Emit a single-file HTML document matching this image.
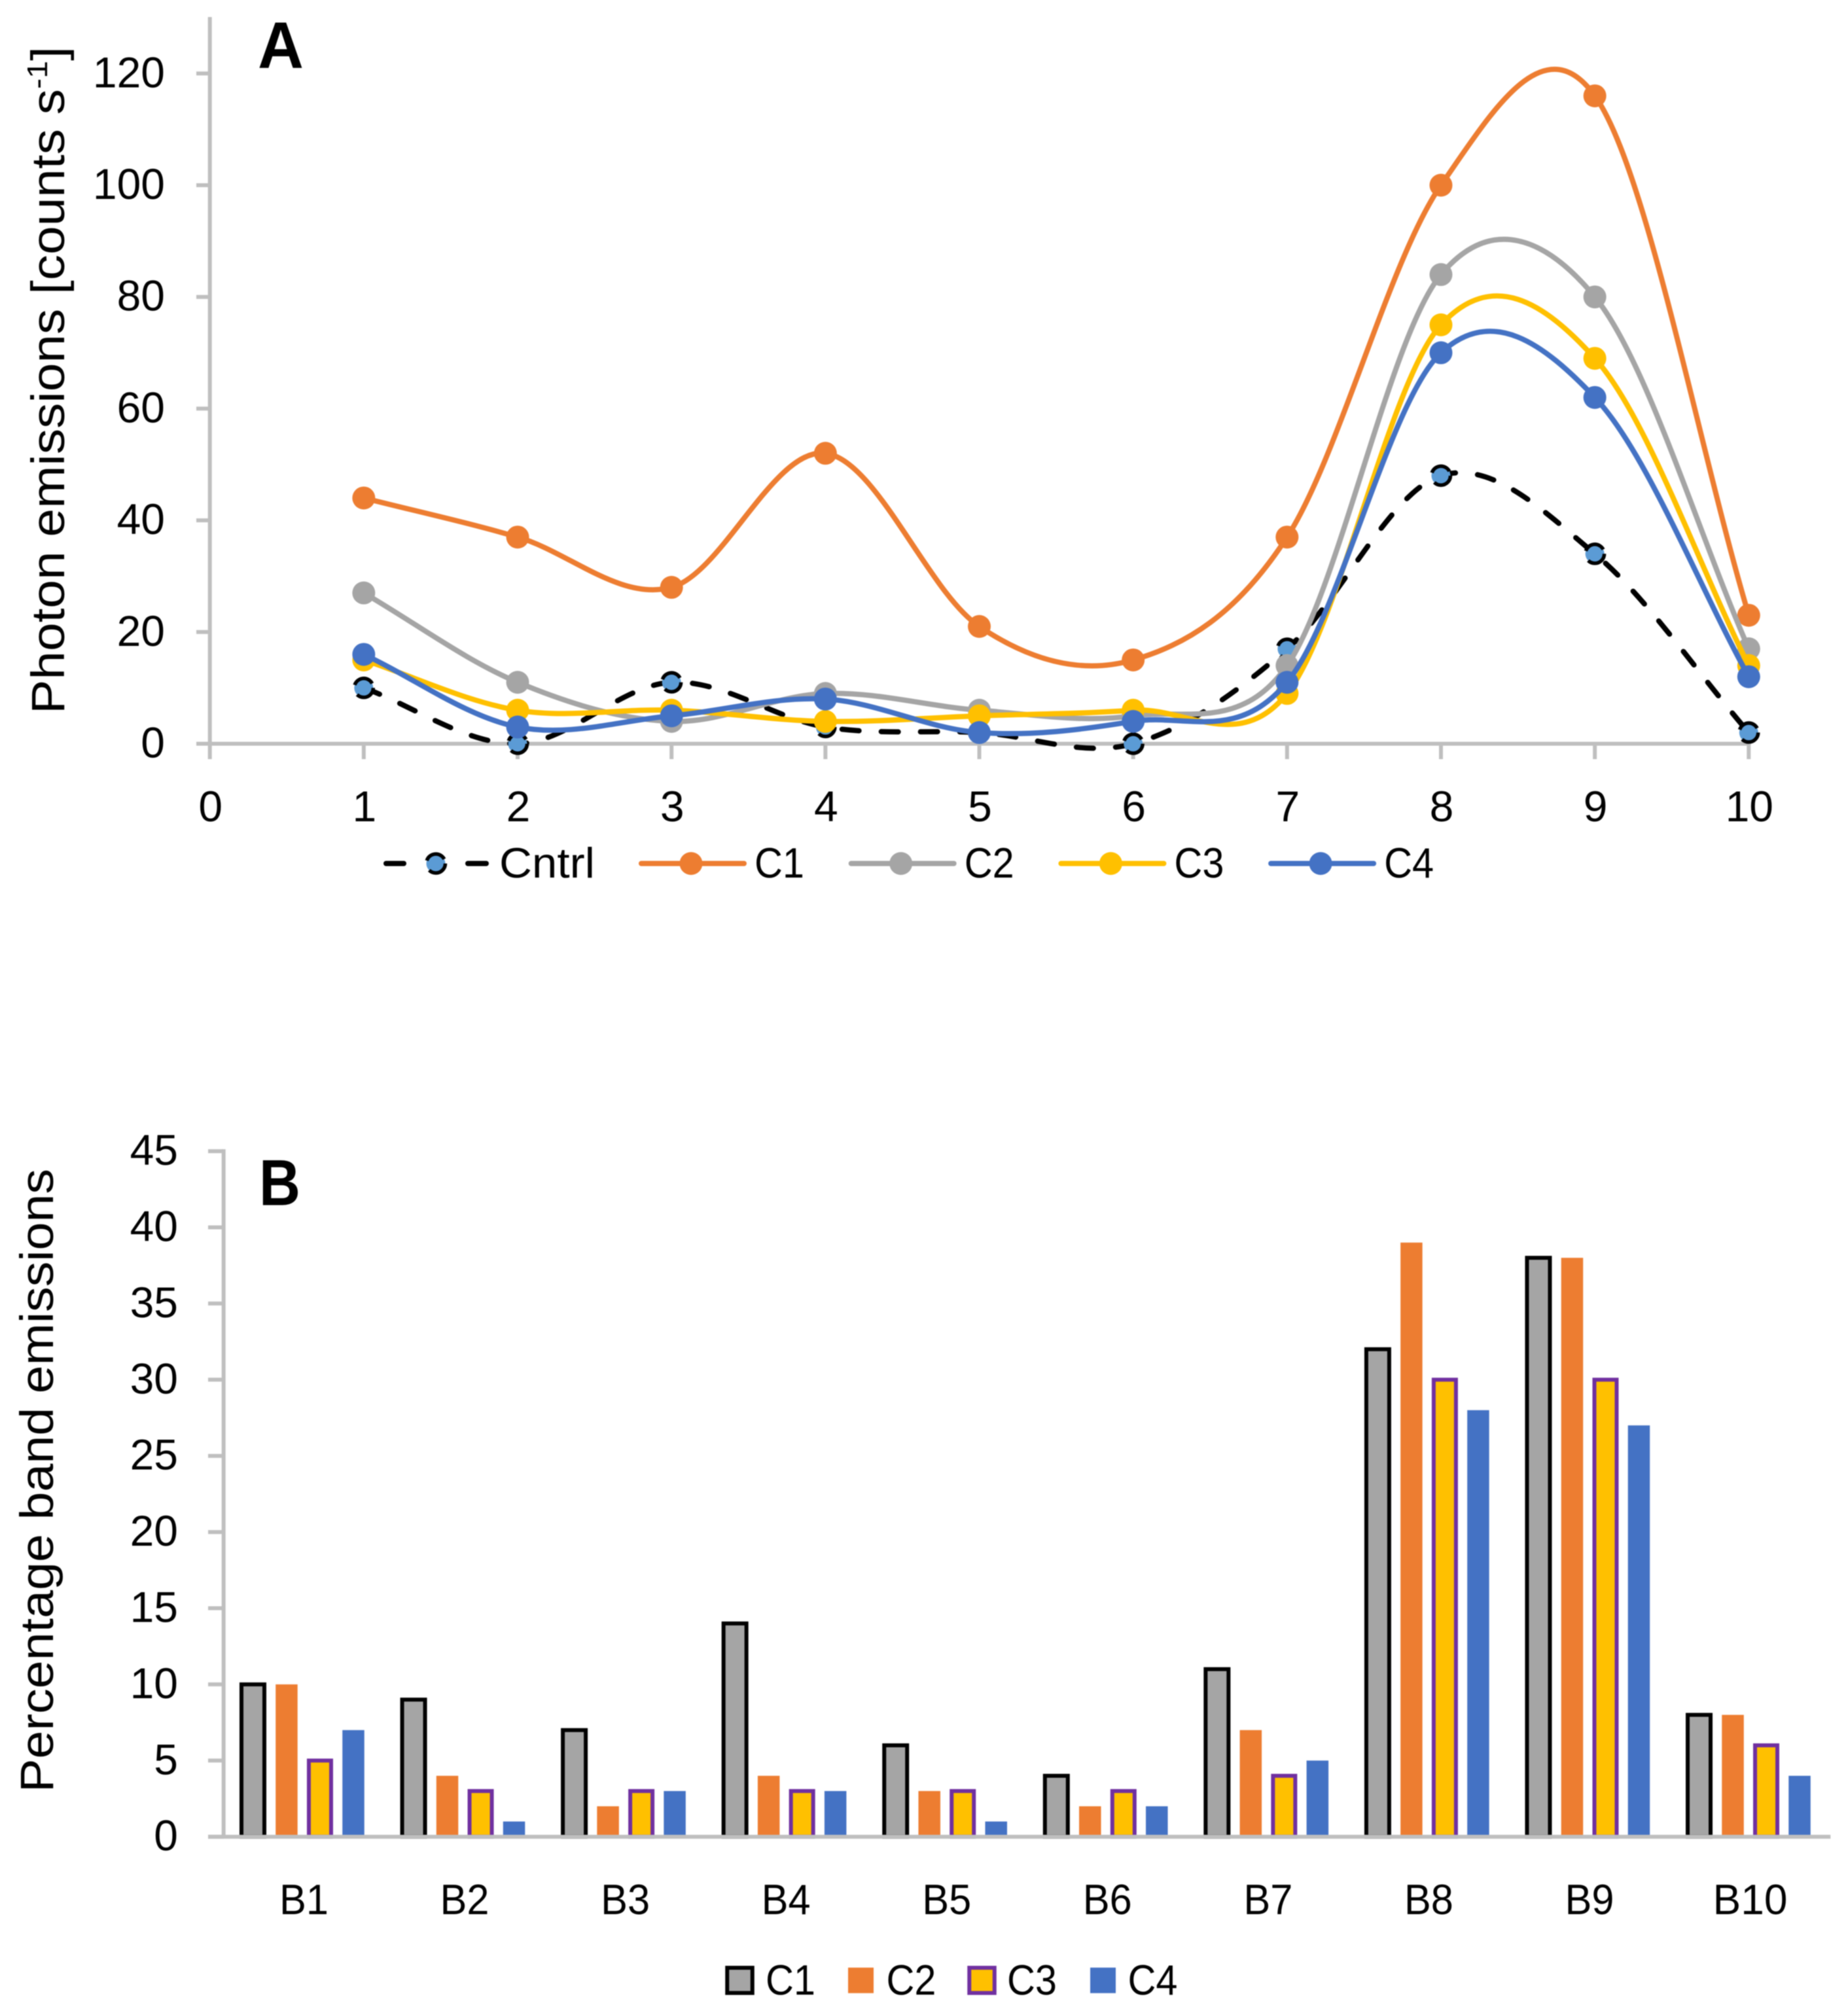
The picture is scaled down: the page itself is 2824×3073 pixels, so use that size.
<!DOCTYPE html>
<html lang="en">
<head>
<meta charset="utf-8">
<title>Photon emissions charts</title>
<style>
html,body{margin:0;padding:0;background:#fff;}
svg{display:block;filter:blur(0.7px);}
text{font-family:"Liberation Sans",sans-serif;fill:#000;}
</style>
</head>
<body>
<svg id="figure" xmlns="http://www.w3.org/2000/svg" width="2824" height="3073" viewBox="0 0 2824 3073">
  <rect x="0" y="0" width="2824" height="3073" fill="#ffffff"/>
  <g id="chartA"></g>
  <g id="chartB"></g>
  <text x="394" y="103.5" font-size="100" font-weight="700" textLength="70" lengthAdjust="spacingAndGlyphs">A</text>
  <text x="396" y="1841.5" font-size="99" font-weight="700" textLength="63" lengthAdjust="spacingAndGlyphs">B</text>
  <text transform="translate(98,1091) rotate(-90)" font-size="71" textLength="1020" lengthAdjust="spacingAndGlyphs">Photon emissions [counts s<tspan dy="-26" font-size="44">-1</tspan><tspan dy="26">]</tspan></text>
  <text transform="translate(81,2739) rotate(-90)" font-size="71" textLength="953" lengthAdjust="spacingAndGlyphs">Percentage band emissions</text>
</svg>
<script>
// ---- Chart A data ----
const lineXTicks = [0, 1, 2, 3, 4, 5, 6, 7, 8, 9, 10];
const lineYTicks = [0, 20, 40, 60, 80, 100, 120];
const lineBands = [1, 2, 3, 4, 5, 6, 7, 8, 9, 10];
const lineCntrl = [10, 0, 11, 3, 2, 0, 17, 48, 34, 2];
const lineC1 = [44, 37, 28, 52, 21, 15, 37, 100, 116, 23];
const lineC2 = [27, 11, 4, 9, 6, 5, 14, 84, 80, 17];
const lineC3 = [15, 6, 6, 4, 5, 6, 9, 75, 69, 14];
const lineC4 = [16, 3, 5, 8, 2, 4, 11, 70, 62, 12];

// ---- Chart B data ----
const barCategories = ["B1", "B2", "B3", "B4", "B5", "B6", "B7", "B8", "B9", "B10"];
const barYTicks = [0, 5, 10, 15, 20, 25, 30, 35, 40, 45];
const barC1 = [10, 9, 7, 14, 6, 4, 11, 32, 38, 8];
const barC2 = [10, 4, 2, 4, 3, 2, 7, 39, 38, 8];
const barC3 = [5, 3, 3, 3, 3, 3, 4, 30, 30, 6];
const barC4 = [7, 1, 3, 3, 1, 2, 5, 28, 27, 4];

const NS = "http://www.w3.org/2000/svg";
const AXIS = "#bfbfbf";
const ORANGE = "#ed7d31", GREY = "#a5a5a5", GOLD = "#ffc000", BLUE = "#4472c4", SKY = "#5b9bd5", PURPLE = "#7030a0";

function make(parent, tag, attrs, content) {
  const node = document.createElementNS(NS, tag);
  for (const k in attrs) node.setAttribute(k, attrs[k]);
  if (content !== undefined) node.textContent = content;
  parent.appendChild(node);
  return node;
}

// ---- axis functions ----
const ax = v => 320.7 + v * 235.16;
const ay = v => 1136.5 - v * 8.535;
const bx = i => 341.7 + (i + 0.5) * 245.56;
const by = v => 2806.7 - v * 23.28;

// Spreadsheet-style smoothed line: control arms limited by neighbouring segment lengths
function smoothPath(pts) {
  const dist = (a, b) => Math.hypot(a[0] - b[0], a[1] - b[1]);
  let d = "M" + pts[0][0].toFixed(2) + " " + pts[0][1].toFixed(2);
  for (let i = 0; i < pts.length - 1; i++) {
    const p1 = pts[i], p2 = pts[i + 1];
    const first = i === 0, last = i === pts.length - 2;
    const p0 = first ? p1 : pts[i - 1];
    const p3 = last ? p2 : pts[i + 2];
    const d02 = dist(p0, p2), d12 = dist(p1, p2), d13 = dist(p1, p3);
    const f = d02 / 6 < d12 / 2 ? (first ? 1 / 3 : 1 / 6) : (d12 / 2) / d02;
    const g = d13 / 6 < d12 / 2 ? (last ? 1 / 3 : 1 / 6) : (d12 / 2) / d13;
    const c1x = p1[0] + (p2[0] - p0[0]) * f, c1y = p1[1] + (p2[1] - p0[1]) * f;
    const c2x = p2[0] - (p3[0] - p1[0]) * g, c2y = p2[1] - (p3[1] - p1[1]) * g;
    d += " C" + c1x.toFixed(2) + " " + c1y.toFixed(2) + " " + c2x.toFixed(2) + " " + c2y.toFixed(2) + " " + p2[0].toFixed(2) + " " + p2[1].toFixed(2);
  }
  return d;
}

// ---- Chart A ----
const chartA = document.getElementById("chartA");

const aYAxis = make(chartA, "line", { x1: ax(0), x2: ax(0), y1: 26, y2: ay(0), stroke: AXIS, "stroke-width": 6 });


const aXAxis = make(chartA, "line", { x1: 300, x2: ax(10) + 3, y1: ay(0), y2: ay(0), stroke: AXIS, "stroke-width": 6 });



lineYTicks.forEach(v => {
  const tick = make(chartA, "line", { x1: 300, x2: ax(0), y1: ay(v), y2: ay(v), stroke: AXIS, "stroke-width": 6 });
  
  
  const label = make(chartA, "text", { x: 252, y: ay(v) + 21, "font-size": 66, "text-anchor": "end" }, String(v));
  
  
});

lineXTicks.forEach(v => {
  const tick = make(chartA, "line", { x1: ax(v), x2: ax(v), y1: ay(0), y2: 1160, stroke: AXIS, "stroke-width": 6 });
  
  
  const label = make(chartA, "text", { x: ax(v) + 1, y: 1255, "font-size": 66, "text-anchor": "middle" }, String(v));
  
  
});

function drawLineSeries(values, color, key) {
  const pts = values.map((v, i) => [ax(lineBands[i]), ay(v)]);
  const g = make(chartA, "g", {});
  
  
  const line = make(g, "path", { d: smoothPath(pts), fill: "none", stroke: color, "stroke-width": 8, "stroke-linecap": "round", "stroke-linejoin": "round" });
  
  
  pts.forEach((p, i) => {
    const dot = make(g, "circle", { cx: p[0], cy: p[1], r: 17.5, fill: color });
    
    
  });
}

function drawCntrlSeries(values) {
  const pts = values.map((v, i) => [ax(lineBands[i]), ay(v)]);
  const g = make(chartA, "g", {});
  
  
  const line = make(g, "path", { d: smoothPath(pts), fill: "none", stroke: "#000", "stroke-width": 8, "stroke-dasharray": "26 34", "stroke-linecap": "round" });
  
  
  pts.forEach((p, i) => {
    const dot = make(g, "circle", { cx: p[0], cy: p[1], r: 14.5, fill: SKY, stroke: "#000", "stroke-width": 5.5, "stroke-dasharray": "34 16" });
    
    
  });
}

drawCntrlSeries(lineCntrl);
drawLineSeries(lineC1, ORANGE, "c1");
drawLineSeries(lineC2, GREY, "c2");
drawLineSeries(lineC3, GOLD, "c3");
drawLineSeries(lineC4, BLUE, "c4");

// legend A
const LEGEND_Y = 1319.5;
const cntrlEntry = make(chartA, "g", {});


const cntrlDash1 = make(cntrlEntry, "line", { x1: 590, x2: 617, y1: LEGEND_Y, y2: LEGEND_Y, stroke: "#000", "stroke-width": 8, "stroke-linecap": "round" });


const cntrlDash2 = make(cntrlEntry, "line", { x1: 715, x2: 743, y1: LEGEND_Y, y2: LEGEND_Y, stroke: "#000", "stroke-width": 8, "stroke-linecap": "round" });


const cntrlMark = make(cntrlEntry, "circle", { cx: 666, cy: LEGEND_Y, r: 14.5, fill: SKY, stroke: "#000", "stroke-width": 5.5, "stroke-dasharray": "34 16" });


const cntrlText = make(cntrlEntry, "text", { x: 763, y: 1341, "font-size": 65, textLength: 146, lengthAdjust: "spacingAndGlyphs" }, "Cntrl");



[["C1", ORANGE], ["C2", GREY], ["C3", GOLD], ["C4", BLUE]].forEach((s, i) => {
  const x0 = 977 + 320.7 * i;
  const entry = make(chartA, "g", {});
  
  
  const ln = make(entry, "line", { x1: x0 + 3, x2: x0 + 160, y1: LEGEND_Y, y2: LEGEND_Y, stroke: s[1], "stroke-width": 8, "stroke-linecap": "round" });
  
  
  const mk = make(entry, "circle", { cx: x0 + 79, cy: LEGEND_Y, r: 17.5, fill: s[1] });
  
  
  const tx = make(entry, "text", { x: x0 + 176, y: 1341, "font-size": 65, textLength: 76, lengthAdjust: "spacingAndGlyphs" }, s[0]);
  
  
});

// ---- Chart B ----
const chartB = document.getElementById("chartB");

function drawBars(values, fill, stroke, width, offset, key) {
  values.forEach((v, i) => {
    const cx = bx(i) + offset;
    const attrs = { x: cx - width / 2, y: by(v), width: width, height: by(0) - by(v), fill: fill };
    if (stroke) { attrs.stroke = stroke; attrs["stroke-width"] = 6; }
    const bar = make(chartB, "rect", attrs);
    
    
  });
}

drawBars(barC1, GREY, "#000", 35, -78, "c1");
drawBars(barC2, ORANGE, null, 33.5, -26.5, "c2");
drawBars(barC3, GOLD, PURPLE, 34, 24.5, "c3");
drawBars(barC4, BLUE, null, 33.5, 75.5, "c4");

const bYAxis = make(chartB, "line", { x1: bx(0) - 122.78, x2: bx(0) - 122.78, y1: by(45) - 3, y2: by(0), stroke: AXIS, "stroke-width": 6 });


const bXAxis = make(chartB, "line", { x1: 318, x2: 2797.3, y1: by(0), y2: by(0), stroke: AXIS, "stroke-width": 6 });



barYTicks.forEach(v => {
  const tick = make(chartB, "line", { x1: 318, x2: 341.7, y1: by(v), y2: by(v), stroke: AXIS, "stroke-width": 6 });
  
  
  const label = make(chartB, "text", { x: 272, y: by(v) + 21, "font-size": 66, "text-anchor": "end" }, String(v));
  
  
});

barCategories.forEach((c, i) => {
  const label = make(chartB, "text", { x: bx(i), y: 2925, "font-size": 65, "text-anchor": "middle", textLength: c.length === 2 ? 75 : 114, lengthAdjust: "spacingAndGlyphs" }, c);
  
  
});

[["C1", GREY, "#000"], ["C2", ORANGE, null], ["C3", GOLD, PURPLE], ["C4", BLUE, null]].forEach((s, i) => {
  const cx = 1130.5 + 185 * i;
  const entry = make(chartB, "g", {});
  
  
  const size = s[2] ? 38.5 : 39;
  const attrs = { x: cx - size / 2, y: 3026.2 - size / 2, width: size, height: size, fill: s[1] };
  if (s[2]) { attrs.stroke = s[2]; attrs["stroke-width"] = 6; }
  const sw = make(entry, "rect", attrs);
  
  
  const tx = make(entry, "text", { x: 1170 + 184.5 * i, y: 3048, "font-size": 65, textLength: 76, lengthAdjust: "spacingAndGlyphs" }, s[0]);
  
  
});
</script>
</body>
</html>
